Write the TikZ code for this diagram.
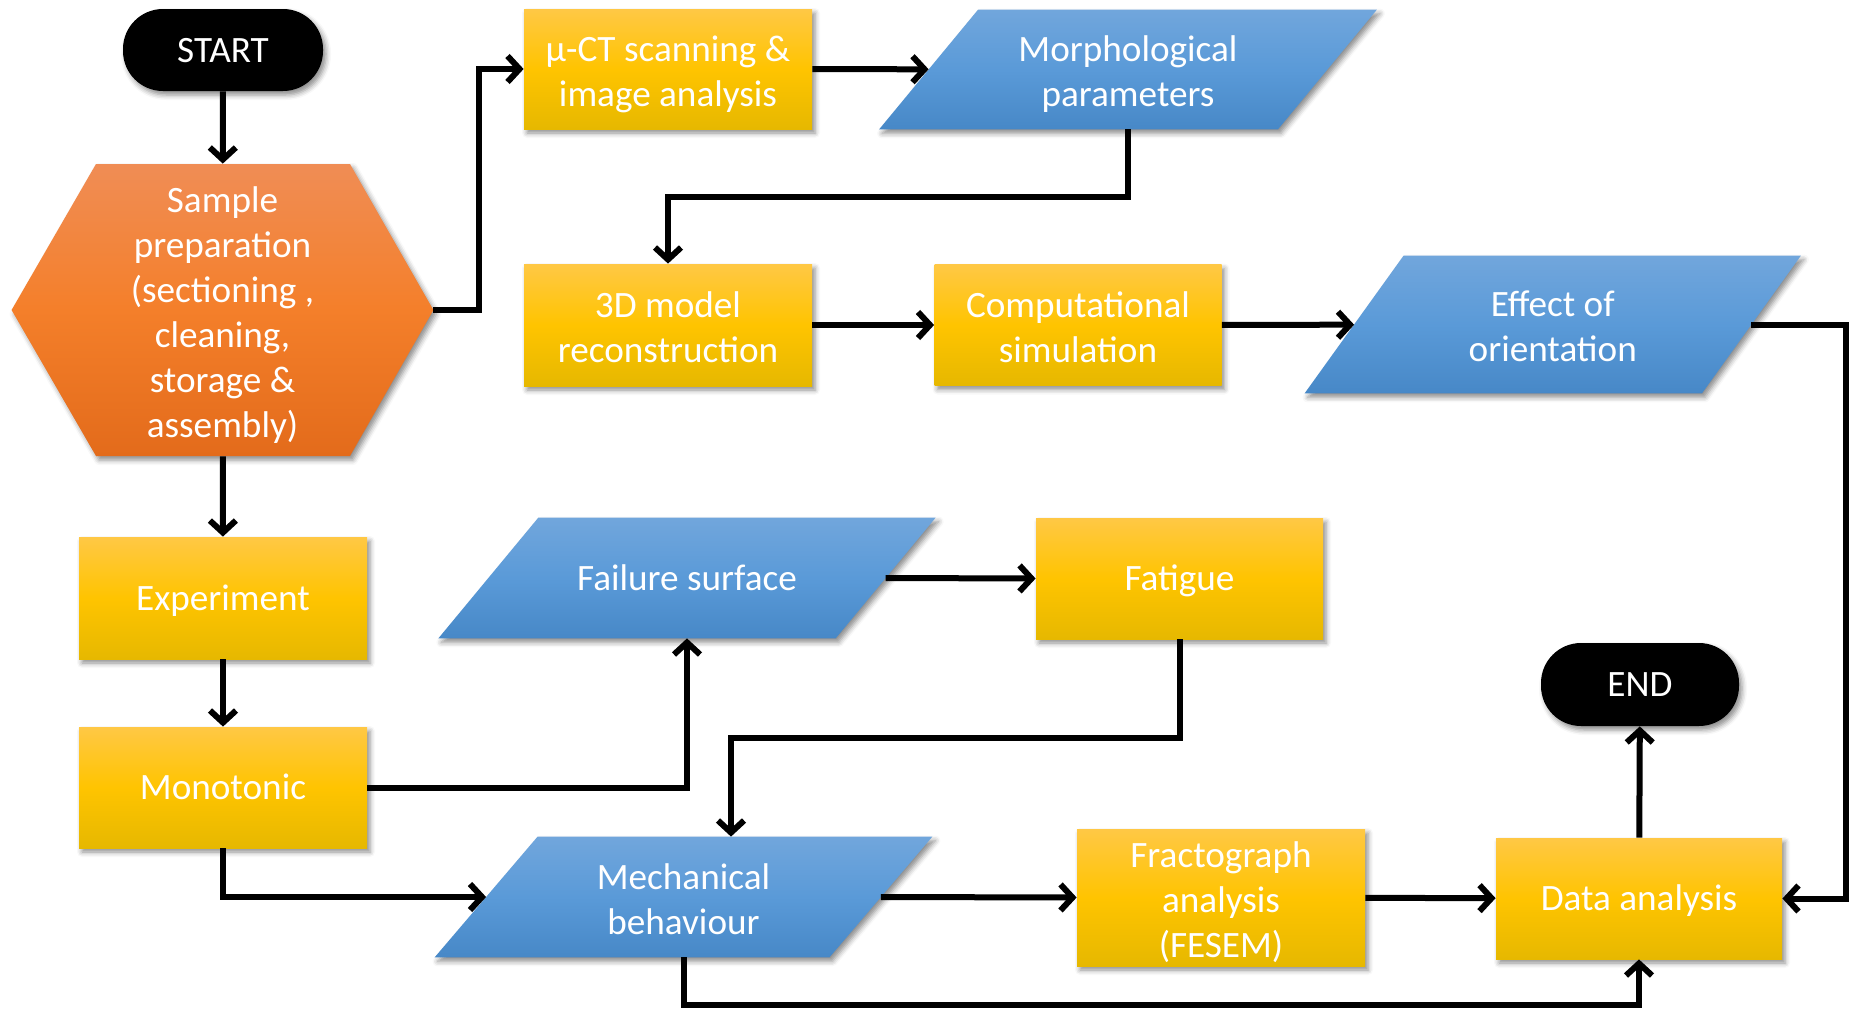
\documentclass[tikz,border=0pt]{standalone}
\usepackage{fontspec}
\setmainfont{Carlito}
\usetikzlibrary{arrows.meta,shadows.blur,backgrounds,calc}
\definecolor{ytop}{HTML}{FFC845}
\definecolor{ymid}{HTML}{FFC400}
\definecolor{ybot}{HTML}{E6B800}
\definecolor{btop}{HTML}{71A6DC}
\definecolor{bmid}{HTML}{5A9AD8}
\definecolor{bbot}{HTML}{4788C7}
\definecolor{otop}{HTML}{F08D55}
\definecolor{omid}{HTML}{F47F2A}
\definecolor{obot}{HTML}{E36B1B}
\newcommand\ftop{\rule{0pt}{16pt}}
\newcommand\mtop{\rule{0pt}{18.5pt}}
\newcommand\fbot{\rule[-4pt]{0pt}{4pt}}
\tikzset{
  shad/.style={blur shadow={shadow xshift=1.5pt, shadow yshift=-2pt, shadow blur radius=2.5pt, shadow opacity=45}},
  txt/.style={text=white, font=\fontsize{18.6}{22.5}\selectfont, align=center, inner sep=0pt, rectangle},
  ybox/.style={txt, shad, top color=ytop, bottom color=ybot, middle color=ymid},
  term/.style={txt, shad, fill=black, rounded corners=20pt},
  bshape/.style={shad, top color=btop, bottom color=bbot, middle color=bmid},
  oshape/.style={shad, top color=otop, bottom color=obot, middle color=omid},
  conn/.style={line width=3pt, -{Straight Barb[length=6pt,width=13pt]}},
}
\newcommand\myparal[3]{\path[#3] ($(#1.south west)+(-#2,0)$) -- ($(#1.south east)+(-#2,0)$) -- ($(#1.north east)+(#2,0)$) -- ($(#1.north west)+(#2,0)$) -- cycle;}
\begin{document}
\begin{tikzpicture}[x=0.5pt,y=-0.5pt]
\useasboundingbox (0,0) rectangle (1858,1012);
% nodes
\node[term, minimum width=100pt, minimum height=41pt] (start) at (223,50) {\ftop START\fbot};
\node[txt, minimum width=210.5pt, minimum height=146pt] (sample) at (222.5,310) {\mtop Sample\\preparation\\(sectioning ,\\cleaning,\\storage \&\\assembly)\fbot};
\node[ybox, minimum width=144pt, minimum height=60pt] (mct) at (668,69) {\mtop µ-CT scanning \&\\image analysis\fbot};
\node[txt, minimum width=199pt, minimum height=59.5pt] (morph) at (1128,69.5) {\mtop Morphological\\parameters\fbot};
\node[ybox, minimum width=144pt, minimum height=61pt] (recon) at (668,325) {\mtop 3D model\\reconstruction\fbot};
\node[ybox, minimum width=143.5pt, minimum height=60.5pt] (comp) at (1078,325) {\mtop Computational\\simulation\fbot};
\node[txt, minimum width=198.25pt, minimum height=68.5pt] (effect) at (1552.75,324.5) {\mtop Effect of\\orientation\fbot};
\node[ybox, minimum width=144pt, minimum height=61pt] (exp) at (223,598) {\ftop Experiment\fbot};
\node[ybox, minimum width=144pt, minimum height=60.5pt] (mono) at (223,787.5) {\ftop Monotonic\fbot};
\node[txt, minimum width=198.25pt, minimum height=60pt] (fail) at (687,578) {\ftop Failure surface\fbot};
\node[ybox, minimum width=143.5pt, minimum height=60.5pt] (fat) at (1179.5,578.5) {\ftop Fatigue\fbot};
\node[txt, minimum width=197pt, minimum height=60pt] (mech) at (683.5,897) {\mtop Mechanical\\behaviour\fbot};
\node[ybox, minimum width=144pt, minimum height=68.5pt] (fract) at (1221,897.5) {\mtop Fractograph\\analysis\\(FESEM)\fbot};
\node[ybox, minimum width=143pt, minimum height=60.5pt] (data) at (1639,898.5) {\ftop Data analysis\fbot};
\node[term, minimum width=99pt, minimum height=41.5pt] (end) at (1640,684.5) {\ftop END\fbot};
% shapes behind text
\begin{scope}[on background layer]
\path[oshape] (sample.west) -- (96,164) -- (350,164) -- (sample.east) -- (350,456) -- (96,456) -- cycle;
\myparal{morph}{49.5}{bshape}
\myparal{effect}{49.5}{bshape}
\myparal{fail}{50}{bshape}
\myparal{mech}{51.5}{bshape}
\end{scope}
% connectors
\draw[conn] (start) -- (sample);
\draw[conn] (sample.east) -- ++(46,0) |- (mct.west);
\draw[conn] (mct) -- (morph);
\draw[conn] (morph.south) -- ++(0,68) -| (recon.north);
\draw[conn] (recon) -- (comp);
\draw[conn] (comp) -- (effect);
\draw[conn] (effect.east) -- ++(95,0) |- (data.east);
\draw[conn] (sample) -- (exp);
\draw[conn] (exp) -- (mono);
\draw[conn] (mono.east) -| (fail.south);
\draw[conn] (mono.south) |- (mech.west);
\draw[conn] (fail.east) -- (fat.west);
\draw[conn] (fat.south) -- ++(0,99) -| ($(mech.north)+(47.5,0)$);
\draw[conn] (mech.east) -- (fract.west);
\draw[conn] (fract) -- (data);
\draw[conn] (data) -- (end);
\draw[conn] (mech.south) -- ++(0,48) -| (data.south);
\end{tikzpicture}
\end{document}
